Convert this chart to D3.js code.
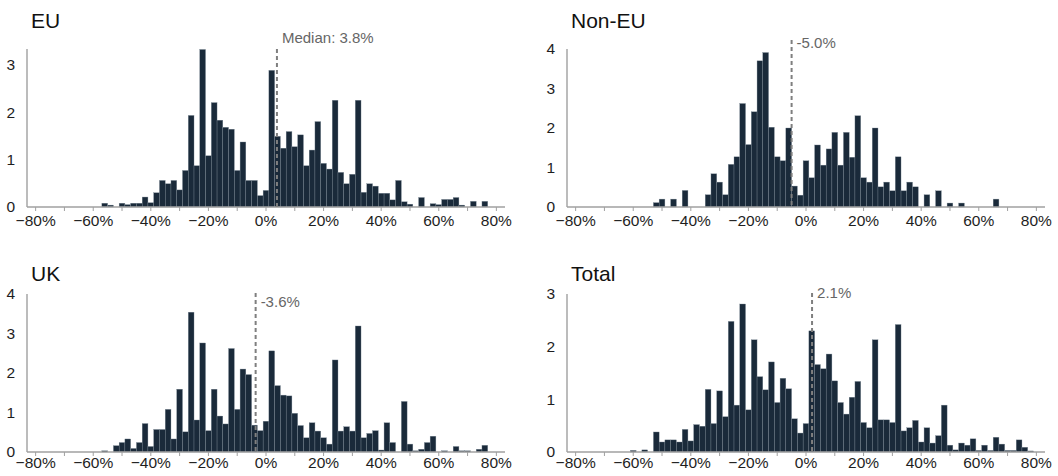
<!DOCTYPE html>
<html>
<head>
<meta charset="utf-8">
<script src="https://cdn.jsdelivr.net/npm/d3@7"></script>
<style>
  body { margin: 0; background: #fff; }
  svg text { font-family: Arial, "Liberation Sans", sans-serif; }
</style>
</head>
<body>
<svg id="chart" width="1058" height="476"></svg>
<script>
// bin centres (2% wide bins)
var bins = [-80, -78, -76, -74, -72, -70, -68, -66, -64, -62, -60, -58, -56, -54, -52, -50, -48, -46, -44, -42,
  -40, -38, -36, -34, -32, -30, -28, -26, -24, -22, -20, -18, -16, -14, -12, -10, -8, -6, -4, -2,
  0, 2, 4, 6, 8, 10, 12, 14, 16, 18, 20, 22, 24, 26, 28, 30, 32, 34, 36, 38,
  40, 42, 44, 46, 48, 50, 52, 54, 56, 58, 60, 62, 64, 66, 68, 70, 72, 74, 76, 78, 80];

var euValues = [0, 0, 0, 0, 0, 0, 0, 0, 0, 0, 0, 0, 0.08, 0.04, 0, 0.08, 0.05, 0.08, 0.08, 0.21,
  0.09, 0.3, 0.56, 0.49, 0.56, 0.36, 0.77, 1.93, 0.87, 3.32, 1.08, 2.2, 1.83, 1.68, 1.64, 0.77, 1.37, 0.56, 0.56, 0.24,
  0.35, 2.88, 1.49, 1.24, 1.59, 1.27, 1.52, 0.87, 1.2, 1.8, 0.92, 0.8, 2.25, 0.73, 0.49, 0.69, 2.25, 0.31, 0.49, 0.44,
  0.29, 0.29, 0.15, 0.56, 0.11, 0.06, 0, 0.2, 0, 0.07, 0.05, 0.16, 0.16, 0.2, 0.04, 0, 0.12, 0, 0.12, 0, 0];

var nonEuValues = [0, 0, 0, 0, 0, 0, 0, 0, 0, 0, 0, 0, 0, 0, 0.11, 0.2, 0, 0.2, 0, 0.42,
  0, 0, 0, 0.31, 0.84, 0.63, 0.31, 1.08, 1.27, 2.62, 1.58, 2.41, 3.7, 3.91, 2.02, 1.27, 1.17, 2.0, 0.53, 0.3,
  1.17, 0.74, 1.57, 1.06, 1.47, 1.89, 1.06, 1.89, 1.26, 2.31, 0.74, 0.63, 2.0, 0.51, 0.63, 0.41, 1.27, 0.41, 0.63, 0.51,
  0, 0.31, 0, 0.41, 0, 0.1, 0, 0.1, 0, 0, 0, 0, 0, 0.2, 0, 0, 0, 0, 0, 0, 0];

var ukValues = [0, 0, 0, 0, 0, 0, 0, 0, 0, 0, 0, 0, 0.03, 0, 0.16, 0.24, 0.33, 0.09, 0.24, 0.72,
  0.14, 0.57, 0.57, 1.08, 0.33, 1.59, 0.51, 3.54, 0.81, 2.76, 0.54, 1.59, 0.91, 0.71, 2.62, 1.08, 2.1, 1.96, 0.68, 0.54,
  0.78, 2.56, 1.68, 1.44, 1.42, 0.98, 0.67, 0.36, 0.74, 0.53, 0.36, 0.2, 2.33, 0.53, 0.64, 0.53, 3.19, 0.36, 0.47, 0.54,
  0.05, 0.74, 0.24, 0, 1.28, 0.2, 0.03, 0.07, 0.24, 0.4, 0, 0.03, 0, 0.14, 0.03, 0.03, 0, 0.07, 0.17, 0, 0];

var totalValues = [0, 0, 0, 0, 0, 0, 0, 0, 0, 0, 0.03, 0, 0.04, 0, 0.38, 0.19, 0.23, 0.23, 0.19, 0.43,
  0.21, 0.52, 0.49, 1.19, 0.54, 1.16, 0.67, 2.48, 0.89, 2.81, 0.8, 2.13, 1.43, 1.18, 1.71, 0.94, 1.4, 1.2, 0.63, 0.36,
  0.54, 2.3, 1.66, 1.58, 1.86, 1.35, 0.94, 0.72, 1.04, 1.34, 0.56, 0.46, 2.13, 0.61, 0.61, 0.56, 2.42, 0.4, 0.46, 0.6,
  0.19, 0.46, 0.17, 0.31, 0.89, 0.13, 0.04, 0.17, 0.13, 0.25, 0.03, 0.13, 0.03, 0.28, 0.15, 0.03, 0.03, 0.23, 0.09, 0.02, 0];

var titles = ["EU", "Non-EU", "UK", "Total"];
var medians = [3.8, -5.0, -3.6, 2.1];
var medianLabels = ["Median: 3.8%", "-5.0%", "-3.6%", "2.1%"];
var yMaxes = [3.33, 4, 4, 3];
var yTickValues = [[0, 1, 2, 3], [0, 1, 2, 3, 4], [0, 1, 2, 3, 4], [0, 1, 2, 3]];
var xTickValues = [-80, -70, -60, -50, -40, -30, -20, -10, 0, 10, 20, 30, 40, 50, 60, 70, 80];
var xTickLabels = ["\u221280%", "\u221260%", "\u221240%", "\u221220%", "0%", "20%", "40%", "60%", "80%"];
var xLabelValues = [-80, -60, -40, -20, 0, 20, 40, 60, 80];

var seriesList = [euValues, nonEuValues, ukValues, totalValues];

// layout
var lefts = [27, 567];
var tops = [49, 294];
var W = 478, H = 158;
var labelDy = [-6, -1.5, 12.7, 4];     // median label baseline vs plot top
var lineTopDy = [0, -9, -1, -1];       // median line top vs plot top
var titleY = [28, 281];
var tickLabelDy = [19, 16];

var barFill = "#1a2a3a";
var axisColor = "#a0a0a0";

var svg = d3.select("#chart");

seriesList.forEach(function (values, i) {
  var col = i % 2, row = Math.floor(i / 2);
  var g = svg.append("g").attr("transform", "translate(" + lefts[col] + "," + tops[row] + ")");

  var x = d3.scaleLinear().domain([-83, 83]).range([0, W]);
  var y = d3.scaleLinear().domain([0, yMaxes[i]]).range([H, 0]);

  var data = bins.map(function (b, j) { return { c: b, v: values[j] }; })
    .filter(function (d) { return d.v > 0; });

  g.selectAll("rect.bar").data(data).join("rect")
    .attr("class", "bar")
    .attr("x", function (d) { return x(d.c - 1); })
    .attr("width", function (d) { return x(d.c + 1) - x(d.c - 1); })
    .attr("y", function (d) { return y(d.v); })
    .attr("height", function (d) { return y(0) - y(d.v); })
    .attr("fill", barFill)
    .attr("stroke", "#7d8a96")
    .attr("stroke-width", 0.35);

  // axes
  g.append("line").attr("x1", 0).attr("x2", W).attr("y1", H).attr("y2", H)
    .attr("stroke", axisColor).attr("stroke-width", 1.4);
  g.append("line").attr("x1", 0).attr("x2", 0).attr("y1", 0).attr("y2", H)
    .attr("stroke", axisColor).attr("stroke-width", 1.4);

  g.selectAll("line.xtick").data(xTickValues).join("line")
    .attr("class", "xtick")
    .attr("x1", function (d) { return x(d); }).attr("x2", function (d) { return x(d); })
    .attr("y1", H).attr("y2", H + 4)
    .attr("stroke", axisColor).attr("stroke-width", 1);

  g.selectAll("text.xlab").data(xLabelValues).join("text")
    .attr("class", "xlab")
    .attr("x", function (d) { return x(d); })
    .attr("y", H + tickLabelDy[row])
    .attr("text-anchor", "middle")
    .attr("font-size", 15.5)
    .attr("fill", "#1e1e1e")
    .text(function (d, j) { return xTickLabels[j]; });

  g.selectAll("text.ylab").data(yTickValues[i]).join("text")
    .attr("class", "ylab")
    .attr("x", -12)
    .attr("y", function (d) { return y(d); })
    .attr("dy", "0.35em")
    .attr("text-anchor", "end")
    .attr("font-size", 15.5)
    .attr("fill", "#1e1e1e")
    .text(function (d) { return d; });

  // median
  var mx = x(medians[i]);
  g.append("line")
    .attr("x1", mx).attr("x2", mx)
    .attr("y1", lineTopDy[i]).attr("y2", H)
    .attr("stroke", "#7f7f7f").attr("stroke-width", 2)
    .attr("stroke-dasharray", "4,3");
  g.append("text")
    .attr("x", mx + 5)
    .attr("y", labelDy[i])
    .attr("font-size", 15)
    .attr("fill", "#666")
    .text(medianLabels[i]);

  // title
  svg.append("text")
    .attr("x", lefts[col] + 4)
    .attr("y", titleY[row])
    .attr("font-size", 21)
    .attr("fill", "#111")
    .text(titles[i]);
});
</script>
</body>
</html>
